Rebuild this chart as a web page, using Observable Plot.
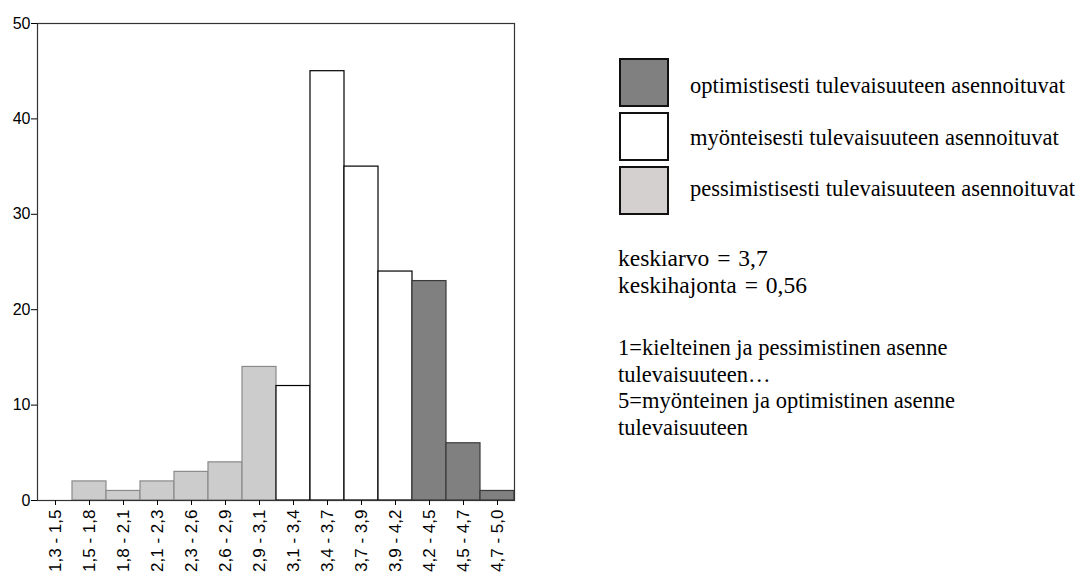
<!DOCTYPE html>
<html>
<head>
<meta charset="utf-8">
<script src="https://cdn.jsdelivr.net/npm/d3@7"></script>
<script src="https://cdn.jsdelivr.net/npm/@observablehq/plot@0.6"></script>
<style>
  html, body { margin: 0; padding: 0; background: #ffffff; }
  #wrap { position: relative; width: 1088px; height: 576px; overflow: hidden; }
  #wrap svg { position: absolute; left: 0; top: 0; }
  .serif { font-family: "Liberation Serif", "DejaVu Serif", serif; color: #000; position: absolute; white-space: nowrap; }
  .sw { position: absolute; width: 46px; height: 45px; border: 2px solid #111; box-sizing: content-box; }
</style>
</head>
<body>
<div id="wrap"></div>
<script>
// ---- data ----
const bins = ["1,3 - 1,5","1,5 - 1,8","1,8 - 2,1","2,1 - 2,3","2,3 - 2,6","2,6 - 2,9","2,9 - 3,1",
              "3,1 - 3,4","3,4 - 3,7","3,7 - 3,9","3,9 - 4,2","4,2 - 4,5","4,5 - 4,7","4,7 - 5,0"];
const counts = [0, 2, 1, 2, 3, 4, 14, 12, 45, 35, 24, 23, 6, 1];
const groups = ["pess","pess","pess","pess","pess","pess","pess",
                "myon","myon","myon","myon","opt","opt","opt"];
const groupKeys = ["opt", "myon", "pess"];
const groupLabels = ["optimistisesti tulevaisuuteen asennoituvat",
                     "myönteisesti tulevaisuuteen asennoituvat",
                     "pessimistisesti tulevaisuuteen asennoituvat"];
const groupFill = ["#808080", "#ffffff", "#cccccc"];
const groupStroke = ["#3a3a3a", "#000000", "#8a8a8a"];
const legendFill = ["#808080", "#ffffff", "#d4d0d0"];
const yTicks = [0, 10, 20, 30, 40, 50];
const statLines = ["keskiarvo = 3,7", "keskihajonta = 0,56"];
const noteLines = ["1=kielteinen ja pessimistinen asenne", "tulevaisuuteen…",
                   "5=myönteinen ja optimistinen asenne", "tulevaisuuteen"];

const table = bins.map((b, i) => ({bin: b, count: counts[i], group: groups[i]}));
const strokeOf = g => groupStroke[groupKeys.indexOf(g)];

const chart = Plot.plot({
  width: 1088,
  height: 576,
  marginLeft: 37,
  marginRight: 574,
  marginTop: 23,
  marginBottom: 76,
  style: {fontFamily: "'Liberation Sans', Arial, sans-serif", background: "transparent", fontSize: "16px"},
  x: {type: "band", domain: bins, padding: 0, label: null},
  y: {domain: [0, 50], label: null},
  color: {domain: groupKeys, range: groupFill},
  marks: [
    Plot.barY(table, {x: "bin", y: "count", fill: "group", stroke: d => strokeOf(d.group), strokeWidth: 1.2, inset: 0}),
    Plot.frame({stroke: "#333", strokeWidth: 1.2}),
    Plot.axisY({ticks: yTicks, tickSize: 6, tickPadding: 1, fontSize: 16, label: null, stroke: "#000", fill: "#000"}),
    Plot.axisX({tickRotate: -90, tickSize: 5, tickPadding: 4, fontSize: 17, label: null, fill: "#000"})
  ]
});
const wrap = document.getElementById("wrap");
wrap.appendChild(chart);

// ---- legend ----
const swTop = [58, 112, 166];
const txtBase = [95, 147, 198];
groupKeys.forEach((k, i) => {
  const sw = document.createElement("div");
  sw.className = "sw";
  sw.style.left = "619px";
  sw.style.top = swTop[i] + "px";
  sw.style.background = legendFill[i];
  wrap.appendChild(sw);
  const t = document.createElement("div");
  t.className = "serif";
  t.style.left = "690px";
  t.style.top = (txtBase[i] - 21) + "px";
  t.style.fontSize = "22.5px";
  t.style.lineHeight = "24px";
  t.textContent = groupLabels[i];
  wrap.appendChild(t);
});

// ---- stats ----
const s = document.createElement("div");
s.className = "serif";
s.style.left = "618px";
s.style.top = "245px";
s.style.fontSize = "23.5px";
s.style.lineHeight = "27px";
s.style.wordSpacing = "2px";
s.innerHTML = statLines.join("<br>");
wrap.appendChild(s);

const n = document.createElement("div");
n.className = "serif";
n.style.left = "618px";
n.style.top = "335px";
n.style.fontSize = "22.5px";
n.style.lineHeight = "26.7px";
n.innerHTML = noteLines.join("<br>");
wrap.appendChild(n);
</script>
</body>
</html>
